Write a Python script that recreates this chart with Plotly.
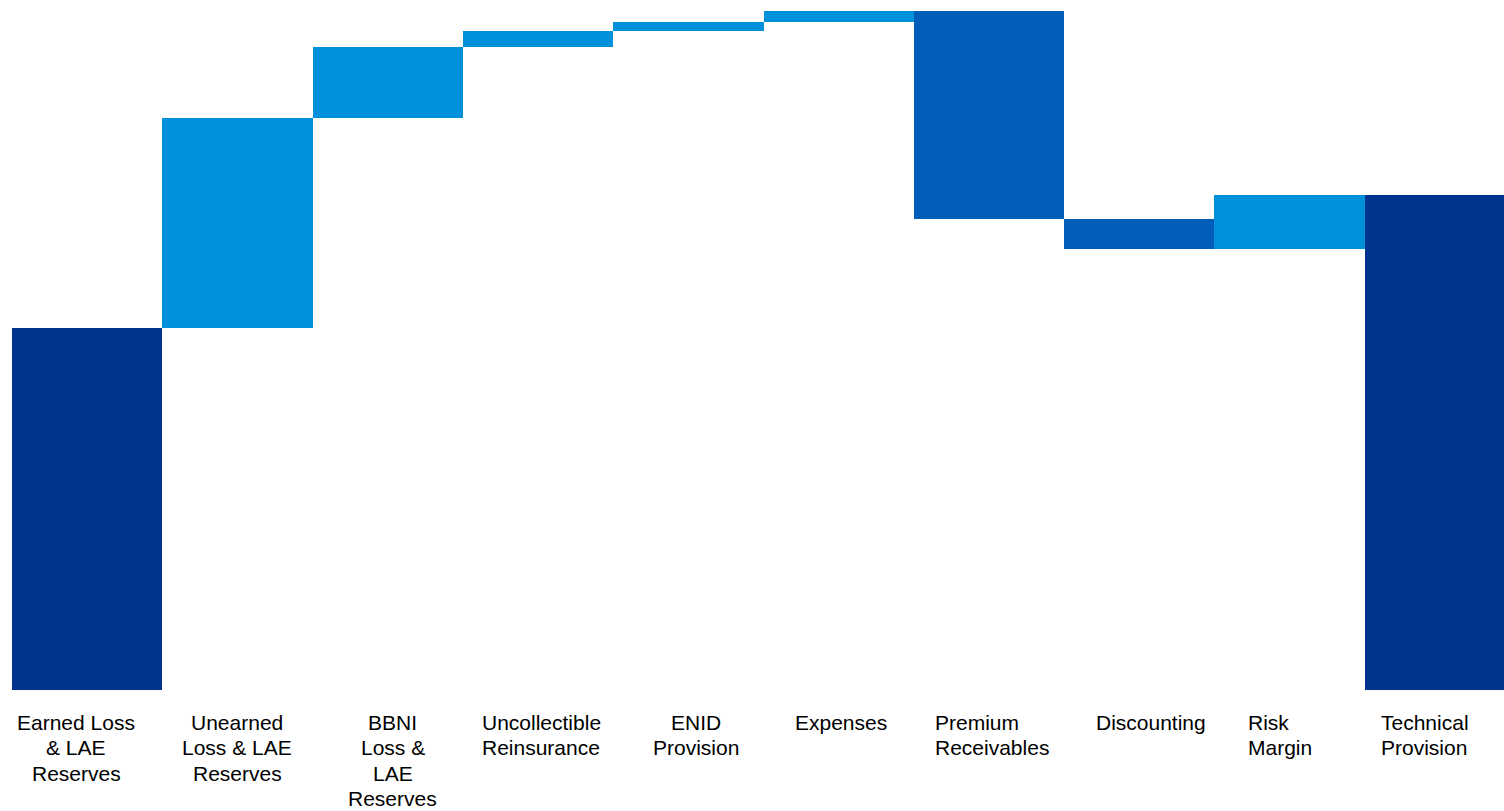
import numpy as np
import plotly.graph_objects as go

# ---- data ----
categories = [
    "Earned Loss<br>& LAE<br>Reserves",
    "Unearned<br>Loss & LAE<br>Reserves",
    "BBNI<br>Loss &<br>LAE<br>Reserves",
    "Uncollectible<br>Reinsurance",
    "ENID<br>Provision",
    "Expenses",
    "Premium<br>Receivables",
    "Discounting",
    "Risk<br>Margin",
    "Technical<br>Provision",
]
measures = ["absolute", "relative", "relative", "relative", "relative",
            "relative", "relative", "relative", "relative", "total"]
values = [36.2, 21.0, 7.1, 1.6, 0.9, 1.15, -20.8, -3.0, 5.4, None]

# ---- styles ----
C_TOTAL = "#00338D"
C_INC = "#0091DA"
C_DEC = "#005EB8"

# compute bases / heights from the data
bases, heights, colors = [], [], []
running = 0.0
for m, v in zip(measures, values):
    if m == "absolute":
        bases.append(0.0); heights.append(v); running = v; colors.append(C_TOTAL)
    elif m == "total":
        bases.append(0.0); heights.append(running); colors.append(C_TOTAL)
    else:
        if v >= 0:
            bases.append(running); heights.append(v); colors.append(C_INC)
        else:
            bases.append(running + v); heights.append(-v); colors.append(C_DEC)
        running += v

xidx = list(range(len(categories)))

fig = go.Figure(go.Bar(
    x=xidx, y=heights, base=bases,
    marker=dict(color=colors, line=dict(width=0)),
    width=1.0, hoverinfo="skip",
))

# label placement: (xshift px, anchor/alignment)
label_layout = [
    (-11, "center"), (0, "center"), (5, "center"), (3, "center"), (8, "center"),
    (2, "center"), (-56, "left"), (12, "center"), (-44, "left"), (-61, "left"),
]
LINE_H = 25.3
FONT = dict(family="Arial, Liberation Sans, sans-serif", size=21, color="#000000")
annotations = []
for i, (txt, (dx, al)) in enumerate(zip(categories, label_layout)):
    for k, line in enumerate(txt.split("<br>")):
        annotations.append(dict(
            x=i, xref="x", y=0, yref="paper", text=line,
            showarrow=False, xanchor=al, yanchor="middle", align=al,
            xshift=dx, yshift=-32.5 - k * LINE_H, font=FONT,
        ))

fig.update_layout(
    width=1504, height=811,
    margin=dict(l=0, r=0, t=0, b=121),
    paper_bgcolor="white", plot_bgcolor="white",
    showlegend=False, bargap=0,
    xaxis=dict(range=[-0.5798, 9.4268], visible=False, fixedrange=True),
    yaxis=dict(range=[0, 69.0], visible=False, fixedrange=True),
    annotations=annotations,
)

fig.write_html("out.html")
